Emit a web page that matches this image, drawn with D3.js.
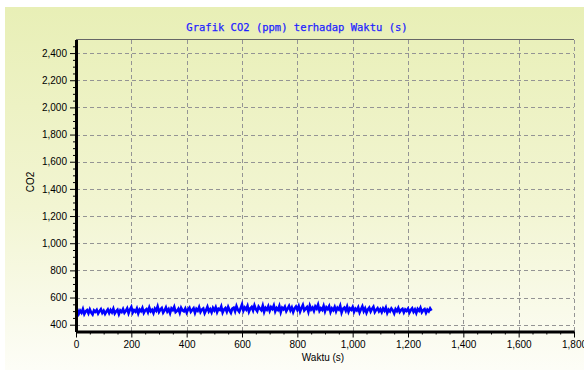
<!DOCTYPE html>
<html>
<head>
<meta charset="utf-8">
<script src="https://cdn.jsdelivr.net/npm/d3@7"></script>
<style>
  html, body { margin: 0; padding: 0; background: #fff; }
  svg { display: block; }
  .tick text { font-family: "Liberation Sans", Arial, sans-serif; font-size: 10px; fill: #000; }
</style>
</head>
<body>
<svg id="root"></svg>
<script>
// CO2 readings (ppm), one every 5 s, starting at t = 0
const sampleStep = 5;
const co2 = [
  492, 510, 481, 503, 488, 515, 479, 498, 507, 484, 512, 490, 476, 505, 495, 509, 483, 500, 514, 487,
  503, 480, 497, 512, 486, 508, 491, 517, 483, 499, 510, 478, 505, 494, 515, 488, 502, 520, 485, 511,
  530, 489, 507, 496, 519, 484, 512, 500, 523, 487, 506, 515, 492, 526, 498, 509, 486, 518, 503, 533,
  494, 511, 522, 489, 505, 527, 497, 514, 486, 520, 508, 531, 493, 502, 517, 488, 524, 505, 498, 519,
  490, 513, 526, 495, 508, 521, 487, 516, 503, 529, 494, 511, 519, 485, 507, 532, 498, 514, 491, 523,
  505, 528, 493, 517, 509, 534, 490, 512, 522, 497, 530, 506, 488, 519, 525, 499, 536, 510, 495, 521,
  548, 503, 526, 512, 538, 496, 520, 531, 505, 542, 514, 499, 533, 518, 507, 540, 495, 524, 511, 535,
  502, 529, 516, 541, 498, 522, 509, 537, 493, 525, 514, 532, 500, 519, 538, 506, 527, 494, 520, 534,
  510, 536, 497, 523, 545, 505, 518, 530, 496, 540, 512, 526, 501, 534, 519, 547, 503, 521, 509, 538,
  499, 528, 515, 536, 494, 520, 507, 531, 498, 524, 512, 539, 490, 517, 526, 503, 533, 496, 521, 510,
  530, 495, 518, 506, 527, 491, 514, 535, 500, 520, 488, 512, 525, 497, 516, 531, 493, 509, 522, 499,
  514, 492, 520, 503, 526, 488, 511, 498, 519, 506, 483, 515, 500, 523, 494, 509, 517, 490, 512, 502,
  518, 489, 508, 521, 495, 512, 486, 516, 503, 524, 492, 507, 515, 488, 511, 499, 520, 504
];

const xTicks = [0, 200, 400, 600, 800, 1000, 1200, 1400, 1600, 1800];
const yTicks = [400, 600, 800, 1000, 1200, 1400, 1600, 1800, 2000, 2200, 2400];
const titleText = "Grafik CO2 (ppm) terhadap Waktu (s)";
const xLabel = "Waktu (s)";
const yLabel = "CO2";

(function () {
  const W = 584, H = 370;
  const plot = { left: 76, right: 574, top: 39.5, bottom: 331.5 };

  const svg = d3.select("#root").attr("width", W).attr("height", H);

  // background panel gradient
  const grad = svg.append("defs").append("linearGradient")
    .attr("id", "bg").attr("x1", 0).attr("y1", 0).attr("x2", 0).attr("y2", 1);
  grad.append("stop").attr("offset", "0%").attr("stop-color", "#e8efb6");
  grad.append("stop").attr("offset", "55%").attr("stop-color", "#f2f5d2");
  grad.append("stop").attr("offset", "100%").attr("stop-color", "#fdfdf7");

  svg.append("rect")
    .attr("x", 5).attr("y", 7)
    .attr("width", W - 5).attr("height", H - 7)
    .attr("fill", "url(#bg)");

  const x = d3.scaleLinear().domain([0, 1800]).range([plot.left, plot.right]);
  const y = d3.scaleLinear().domain([350, 2500]).range([plot.bottom, plot.top]);

  // gridlines
  const grid = svg.append("g").attr("stroke", "#949494").attr("stroke-width", 1)
    .attr("stroke-dasharray", "4,3").attr("shape-rendering", "crispEdges");
  grid.selectAll(".gx").data(xTicks.slice(1)).enter().append("line")
    .attr("x1", d => Math.round(x(d)) + 0.5).attr("x2", d => Math.round(x(d)) + 0.5)
    .attr("y1", plot.top).attr("y2", plot.bottom);
  grid.selectAll(".gy").data(yTicks).enter().append("line")
    .attr("x1", plot.left).attr("x2", plot.right)
    .attr("y1", d => Math.round(y(d)) + 0.5).attr("y2", d => Math.round(y(d)) + 0.5);

  // top border
  svg.append("line")
    .attr("x1", plot.left).attr("x2", plot.right)
    .attr("y1", plot.top).attr("y2", plot.top)
    .attr("stroke", "#666").attr("stroke-width", 1);

  // data line
  const line = d3.line()
    .x((d, i) => x(i * sampleStep))
    .y(d => y(d));

  svg.append("path")
    .datum(co2)
    .attr("fill", "none")
    .attr("stroke", "#0000ff")
    .attr("stroke-width", 2.6)
    .attr("stroke-linejoin", "miter")
    .attr("d", line);

  // minor ticks
  const xMinor = d3.range(0, 1801, 50).filter(v => v % 200 !== 0);
  const yMinor = d3.range(400, 2500, 50).filter(v => v % 200 !== 0);

  svg.append("g")
    .attr("transform", `translate(0,${plot.bottom})`)
    .call(d3.axisBottom(x).tickValues(xMinor).tickSize(3).tickFormat(""))
    .call(g => g.select(".domain").remove());
  svg.append("g")
    .attr("transform", `translate(${plot.left},0)`)
    .call(d3.axisLeft(y).tickValues(yMinor).tickSize(3).tickFormat(""))
    .call(g => g.select(".domain").remove());

  // major axes
  const xAxis = svg.append("g")
    .attr("transform", `translate(0,${plot.bottom})`)
    .call(d3.axisBottom(x).tickValues(xTicks).tickSize(6).tickPadding(3)
      .tickFormat(d3.format(",")).tickSizeOuter(0));
  const yAxis = svg.append("g")
    .attr("transform", `translate(${plot.left},0)`)
    .call(d3.axisLeft(y).tickValues(yTicks).tickSize(6).tickPadding(3)
      .tickFormat(d3.format(",")).tickSizeOuter(0));

  xAxis.select(".domain").attr("stroke", "#000").attr("stroke-width", 3);
  yAxis.select(".domain").attr("stroke", "#000").attr("stroke-width", 3);

  // title and axis labels
  svg.append("text")
    .attr("x", 297).attr("y", 31)
    .attr("text-anchor", "middle")
    .attr("font-family", "'DejaVu Sans Mono', monospace")
    .attr("font-size", "10.5px")
    .attr("fill", "#1f1fff")
    .attr("stroke", "#1f1fff")
    .attr("stroke-width", 0.25)
    .text(titleText);

  svg.append("text")
    .attr("x", 323).attr("y", 361)
    .attr("text-anchor", "middle")
    .attr("font-family", "'Liberation Sans', Arial, sans-serif")
    .attr("font-size", "10px")
    .text(xLabel);

  svg.append("text")
    .attr("transform", "translate(34,182) rotate(-90)")
    .attr("text-anchor", "middle")
    .attr("font-family", "'Liberation Sans', Arial, sans-serif")
    .attr("font-size", "10px")
    .text(yLabel);
})();
</script>
</body>
</html>
